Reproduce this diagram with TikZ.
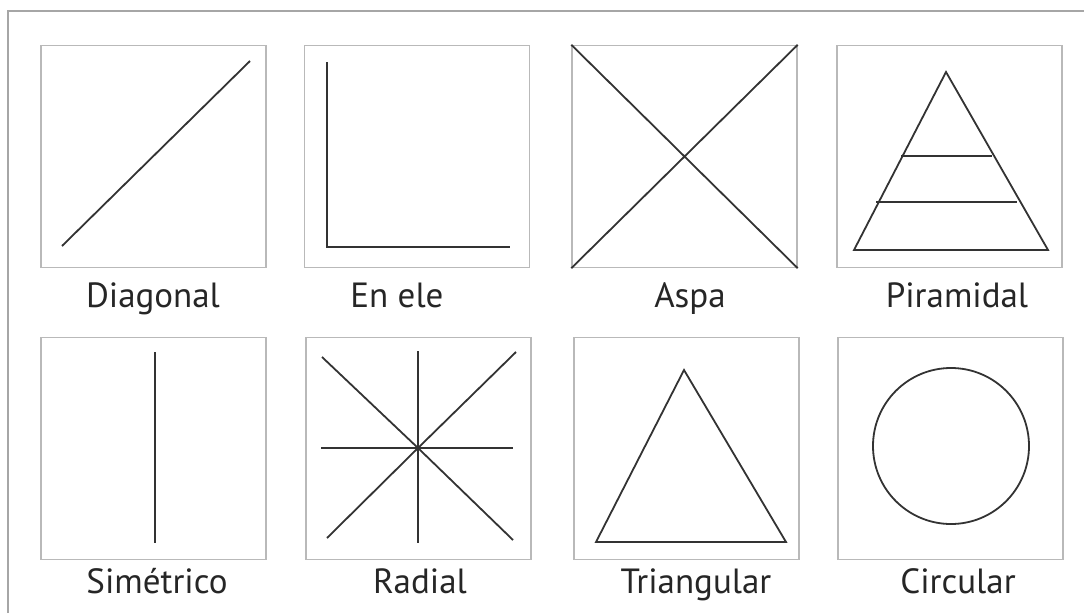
\documentclass[tikz,border=0pt]{standalone}
\usepackage{fontspec}
\setsansfont{PT Sans}
\usetikzlibrary{positioning}

\tikzset{
  panel/.style={draw=gray!55, line width=1.3pt, minimum width=225pt, minimum height=222pt, inner sep=0pt},
  figline/.style={draw=black!80, line width=1.8pt},
  caption/.style={anchor=base, inner sep=0pt, text=black!85, font=\sffamily\fontsize{35}{42}\selectfont}
}

\begin{document}
\begin{tikzpicture}[x=1pt,y=-1pt]
\useasboundingbox (0,0) rectangle (1084,613);
\draw[gray!70, line width=2.5pt] (8,613) -- (8,11) -- (1084,11);

% boxes
\node[panel] (diag) at (153.5,156.5) {};
\node[panel] (ele) at (417,156.5) {};
\node[panel] (aspa) at (684.5,156.5) {};
\node[panel] (pira) at (949.5,156.5) {};
\node[panel] (sime) at (153.5,448.5) {};
\node[panel] (radi) at (418.5,448.5) {};
\node[panel] (tria) at (686.5,448.5) {};
\node[panel] (circ) at (950.5,448.5) {};

% captions
\node[caption] (tdiag) at (153,307) {Diagonal};
\node[caption] (tele) at (397,307) {En ele};
\node[caption] (taspa) at (690,307) {Aspa};
\node[caption] (tpira) at (957,307) {Piramidal};
\node[caption] (tsime) at (157,593) {Simétrico};
\node[caption] (tradi) at (420,593) {Radial};
\node[caption] (ttria) at (696,593) {Triangular};
\node[caption] (tcirc) at (958,593) {Circular};

% figures
\draw[figline] (62,246) -- (250,61);
\draw[figline] (327,62) -- (327,247) -- (510,247);
\draw[figline] (aspa.north west) -- (aspa.south east) (aspa.south west) -- (aspa.north east);
\draw[figline] (946,72) -- (1048,250) -- (854,250) -- cycle;
\draw[figline] (901,156) -- (992,156);
\draw[figline] (876,202) -- (1017,202);

\draw[figline] (155,352) -- (155,543);
\coordinate (rc) at (418,448);
\draw[figline] (rc) -- (418,351) (rc) -- (418,543) (rc) -- (321,448) (rc) -- (513,448);
\draw[figline] (rc) -- (322,357) (rc) -- (516,352) (rc) -- (327,538) (rc) -- (513,540);
\draw[figline] (684,370) -- (786,542) -- (596,542) -- cycle;
\draw[figline] (951,446) circle (78);

\end{tikzpicture}
\end{document}
